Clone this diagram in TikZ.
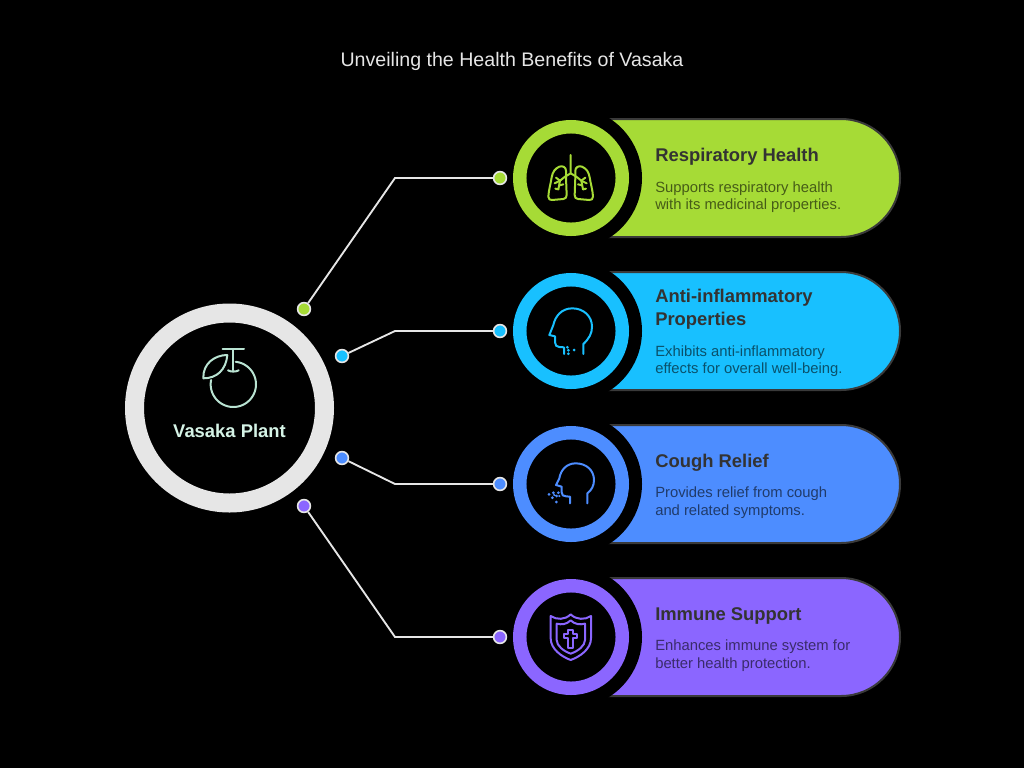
\documentclass[tikz,border=0pt]{standalone}
\usepackage{fontspec}
\setmainfont{Liberation Sans}
\definecolor{cgreen}{HTML}{A6DB36}
\definecolor{ccyan}{HTML}{18C0FF}
\definecolor{cblue}{HTML}{4D8DFF}
\definecolor{cpurple}{HTML}{8B66FF}
\definecolor{cring}{HTML}{E6E6E6}
\definecolor{cmint}{HTML}{D5F3E6}
\definecolor{cicon}{HTML}{B9E3D2}
\definecolor{cedge}{HTML}{3A3A3A}
\definecolor{ctitle}{HTML}{333333}
\tikzset{
  px/.style={x=0.75pt,y=-0.75pt},
  dotnode/.style={circle,draw=cring,line width=1.2pt,minimum size=9.6pt,inner sep=0pt},
  wire/.style={draw=cring,line width=1.4pt},
  ringnode/.style={circle,fill=black,line width=10.1pt,minimum size=76.9pt,inner sep=0pt},
  gapnode/.style={circle,fill=black,minimum size=106.5pt,inner sep=0pt},
  headtext/.style={anchor=base west,inner sep=0pt,text=ctitle,font=\bfseries\fontsize{13.8}{16}\selectfont},
  bodytext/.style={anchor=base west,inner sep=0pt,font=\fontsize{11.1}{13}\selectfont},
  iconline/.style={line width=1.5pt,line cap=round,line join=round},
  zoomed/.style={shift={(#1)},scale=1/3}
}
\newcommand{\pillshape}[2]{%
  \begin{scope}[shift={(0,#1)}]
  \path[fill=#2,draw=cedge,line width=1.5pt] (571,-59) -- (841,-59)
    .. controls (873.6,-59) and (900,-32.6) .. (900,0)
    .. controls (900,32.6) and (873.6,59) .. (841,59) -- (571,59) -- cycle;
  \end{scope}}
\begin{document}
\begin{tikzpicture}[px]
\useasboundingbox (0,0) rectangle (1024,768);
\fill[black] (0,0) rectangle (1024,768);

\node[inner sep=0pt,text=cring,font=\fontsize{14.7}{17}\selectfont] (title) at (512,61.5) {Unveiling the Health Benefits of Vasaka};

% pills
\pillshape{178}{cgreen}
\pillshape{331}{ccyan}
\pillshape{484}{cblue}
\pillshape{637}{cpurple}
\node[gapnode] (g1) at (571,178) {};
\node[gapnode] (g2) at (571,331) {};
\node[gapnode] (g3) at (571,484) {};
\node[gapnode] (g4) at (571,637) {};
\node[ringnode,draw=cgreen] (r1) at (571,178) {};
\node[ringnode,draw=ccyan] (r2) at (571,331) {};
\node[ringnode,draw=cblue] (r3) at (571,484) {};
\node[ringnode,draw=cpurple] (r4) at (571,637) {};

% centre
\node[circle,fill=black,draw=cring,line width=14.25pt,minimum size=142.5pt,inner sep=0pt] (hub) at (229.5,408) {};
\node[inner sep=0pt,anchor=base,text=cmint,font=\bfseries\fontsize{13.8}{16}\selectfont] (hubtext) at (229.5,437) {Vasaka Plant};

% connectors
\coordinate (b1) at (395,178);
\coordinate (b2) at (395,331);
\coordinate (b3) at (395,484);
\coordinate (b4) at (395,637);
\node[dotnode,fill=cgreen] (s1) at (304,309) {};
\node[dotnode,fill=ccyan] (s2) at (342,356) {};
\node[dotnode,fill=cblue] (s3) at (342,458) {};
\node[dotnode,fill=cpurple] (s4) at (304,506) {};
\node[dotnode,fill=cgreen] (e1) at (500,178) {};
\node[dotnode,fill=ccyan] (e2) at (500,331) {};
\node[dotnode,fill=cblue] (e3) at (500,484) {};
\node[dotnode,fill=cpurple] (e4) at (500,637) {};
\draw[wire] (s1) -- (b1) -- (e1);
\draw[wire] (s2) -- (b2) -- (e2);
\draw[wire] (s3) -- (b3) -- (e3);
\draw[wire] (s4) -- (b4) -- (e4);

% texts
\node[headtext] (h1) at (655,161) {Respiratory Health};
\node[bodytext,text=cgreen!42!black] (d1a) at (655,192) {Supports respiratory health};
\node[bodytext,text=cgreen!42!black] (d1b) at (655,209) {with its medicinal properties.};
\node[headtext] (h2a) at (655,302) {Anti-inflammatory};
\node[headtext] (h2b) at (655,325) {Properties};
\node[bodytext,text=ccyan!42!black] (d2a) at (655,356) {Exhibits anti-inflammatory};
\node[bodytext,text=ccyan!42!black] (d2b) at (655,373) {effects for overall well-being.};
\node[headtext] (h3) at (655,467) {Cough Relief};
\node[bodytext,text=cblue!42!black] (d3a) at (655,497) {Provides relief from cough};
\node[bodytext,text=cblue!42!black] (d3b) at (655,515) {and related symptoms.};
\node[headtext] (h4) at (655,620) {Immune Support};
\node[bodytext,text=cpurple!42!black] (d4a) at (655,650) {Enhances immune system for};
\node[bodytext,text=cpurple!42!black] (d4b) at (655,668) {better health protection.};

% apple icon
\begin{scope}[zoomed={120,295},iconline,draw=cicon]
  \draw (308,163) -- (372,163);
  \draw (340,163) -- (340,226);
  \draw (324,226) .. controls (332,231) and (348,231) .. (356,226);
  \draw (322,180) .. controls (285,180) and (248,205) .. (250,250)
        .. controls (290,250) and (318,225) .. (322,180);
  \draw plot[smooth,domain=-84:191,samples=60] ({340+68*cos(\x)},{268+68*sin(\x)});
\end{scope}

% lungs icon
\begin{scope}[zoomed={530,140},iconline,draw=cgreen]
  \draw (122,45) -- (122,100) -- (105,110) -- (90,122) -- (78,113);
  \draw (122,100) -- (139,110) -- (154,122) -- (166,113);
  \draw (90,122) -- (74,130); \draw (154,122) -- (170,130);
  \draw (90,122) -- (85,148) ; \draw (154,122) -- (159,148);
  \draw (88,136) -- (100,133); \draw (156,136) -- (144,133);
  \draw (85,148) -- (76,146); \draw (159,148) -- (168,146);
  \draw (108,112) -- (108,92) .. controls (108,82) and (98,76) .. (88,80)
        .. controls (75,86) and (68,95) .. (65,112)
        .. controls (62,132) and (56,150) .. (55,170)
        .. controls (55,178) and (60,180) .. (66,180)
        -- (100,177) .. controls (107,176) and (110,172) .. (110,165) -- (108,112);
  \draw (136,112) -- (136,92) .. controls (136,82) and (146,76) .. (156,80)
        .. controls (169,86) and (176,95) .. (179,112)
        .. controls (182,132) and (188,150) .. (189,170)
        .. controls (189,178) and (184,180) .. (178,180)
        -- (144,177) .. controls (137,176) and (134,172) .. (134,165) -- (136,112);
\end{scope}

% head icon 1
\begin{scope}[zoomed={510,270},iconline,draw=ccyan]
  \draw (220,252) -- (220,222) .. controls (238,205) and (246,190) .. (246,170)
        .. controls (246,138) and (220,115) .. (187,115)
        .. controls (155,115) and (136,138) .. (130,165)
        -- (118,195) -- (135,199) -- (135,217)
        .. controls (135,226) and (140,231) .. (148,231)
        -- (162,232) -- (162,252);
  \fill[ccyan] (172,232) circle (4.5) (175,241) circle (4.5) (192,240) circle (4.5)
     (175,251) circle (4.5);
\end{scope}

% head icon 2
\begin{scope}[zoomed={510,425},iconline,draw=cblue]
  \draw (232,235) -- (232,205) .. controls (245,195) and (252,182) .. (252,165)
        .. controls (252,135) and (228,115) .. (197,115)
        .. controls (170,115) and (152,135) .. (148,160)
        -- (138,180) -- (155,185) -- (155,202)
        .. controls (155,210) and (160,214) .. (168,214)
        -- (180,215) -- (180,235);
  \fill[cblue] (117,208) circle (4.5) (130,203) circle (4.5) (145,203) circle (4.5)
     (140,213) circle (4.5) (127,218) circle (4.5) (139,231) circle (4.5)
     (148,213) circle (3.5) (133,210) circle (3.5);
\end{scope}

% shield icon
\begin{scope}[zoomed={510,575},iconline,draw=cpurple]
  \draw (122,123) .. controls (140,135) and (165,135) .. (182,118)
        .. controls (199,135) and (225,135) .. (243,123)
        -- (243,190) .. controls (243,222) and (210,245) .. (182,255)
        .. controls (155,245) and (122,222) .. (122,190) -- cycle;
  \draw (140,146) .. controls (155,150) and (170,148) .. (182,136)
        .. controls (194,148) and (210,150) .. (225,146)
        -- (225,195) .. controls (225,212) and (205,228) .. (182,236)
        .. controls (160,228) and (140,212) .. (140,195) -- cycle;
  \draw (173,166) -- (190,166) -- (190,178) -- (202,178) -- (202,190) -- (190,190)
        -- (190,218) -- (173,218) -- (173,190) -- (162,190) -- (162,178) -- (173,178) -- cycle;
\end{scope}
\end{tikzpicture}
\end{document}
